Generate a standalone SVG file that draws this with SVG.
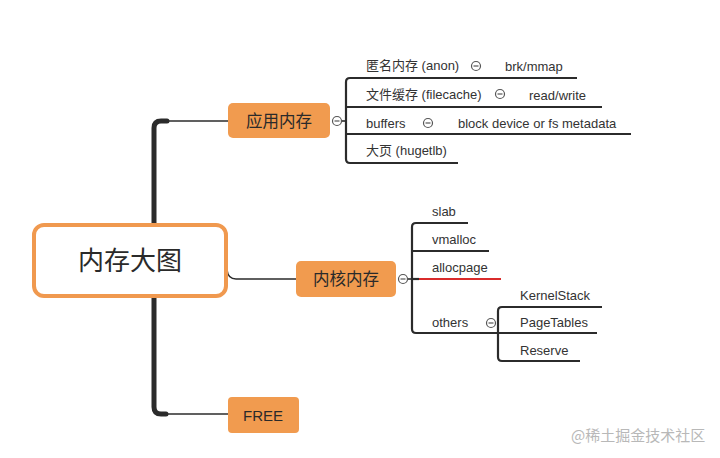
<svg xmlns="http://www.w3.org/2000/svg" width="720" height="458" viewBox="0 0 720 458">
<style>
.bg{fill:#ffffff}
.topic{fill:#F19B4F}
.tt{font-family:"Noto Sans CJK SC","Liberation Sans",sans-serif;fill:#2a2a2a;text-anchor:middle}
.lbl{font-family:"Liberation Sans","Noto Sans CJK SC",sans-serif;font-size:13px;fill:#333333}
.trunk{fill:none;stroke:#2b2b2b;stroke-width:5;stroke-linecap:round;stroke-linejoin:round}
.br{fill:none;stroke:#2b2b2b;stroke-width:1.6}
.ln{fill:none;stroke:#2b2b2b;stroke-width:2.2;stroke-linejoin:round}
.red{fill:none;stroke:#D92B2B;stroke-width:2.2}
.col{fill:#ffffff;stroke:#555555;stroke-width:1.2}
.mn{stroke:#555555;stroke-width:1.2}
.wm{font-family:"Noto Sans CJK SC",sans-serif;font-size:15px;fill:#b8b8b8}
</style>
<rect class="bg" x="0" y="0" width="720" height="458"/>
<g id="connectors">
  <path class="trunk" d="M 167 121 L 161 121 Q 154 121 154 128 L 154 407 Q 154 414 161 414 L 166 414"/>
  <path class="br" d="M 160 121 L 229 121"/>
  <path class="br" d="M 160 414 L 229 414"/>
  <path class="br" d="M 227 270 Q 228 279 236 279 L 297 279"/>
  <path class="br" d="M 342 121 L 346 121"/>
  <path class="ln" d="M 577 78 L 350 78 Q 346 78 346 82 L 346 159 Q 346 163 350 163 L 458 163"/>
  <path class="ln" d="M 346 107 L 602 107"/>
  <path class="ln" d="M 346 134 L 631 134"/>
  <path class="br" d="M 408 279 L 412 279"/>
  <path class="ln" d="M 468 223 L 416 223 Q 412 223 412 227 L 412 329 Q 412 333 416 333 L 597 333"/>
  <path class="ln" d="M 412 251 L 489 251"/>
  <path class="ln" d="M 412 279 L 419 279"/>
  <path class="red" d="M 419 279 L 501 279"/>
  <path class="ln" d="M 602 307 L 502 307 Q 498 307 498 311 L 498 357 Q 498 361 502 361 L 580 361"/>
</g>
<g id="root">
  <rect x="34" y="225" width="192" height="71" rx="10" fill="#ffffff" stroke="#F0994F" stroke-width="4"/>
  <text class="tt" x="130" y="270" font-size="26">内存大图</text>
</g>
<g id="app-mem">
  <rect class="topic" x="228" y="103" width="102" height="35" rx="5"/>
  <text class="tt" x="279" y="127" font-size="16.5">应用内存</text>
  <circle class="col" cx="337" cy="121" r="4.5"/>
  <line class="mn" x1="334.5" y1="121" x2="339.5" y2="121"/>
</g>
<g id="anon">
  <text class="lbl" x="366" y="70">匿名内存 (anon)</text>
  <circle class="col" cx="476" cy="66" r="4.5"/>
  <line class="mn" x1="473.5" y1="66" x2="478.5" y2="66"/>
</g>
<g id="brk"><text class="lbl" x="505" y="71">brk/mmap</text></g>
<g id="filecache">
  <text class="lbl" x="366" y="99">文件缓存 (filecache)</text>
  <circle class="col" cx="500" cy="94" r="4.5"/>
  <line class="mn" x1="497.5" y1="94" x2="502.5" y2="94"/>
</g>
<g id="rw"><text class="lbl" x="529" y="100">read/write</text></g>
<g id="buffers">
  <text class="lbl" x="366" y="128">buffers</text>
  <circle class="col" cx="428" cy="123" r="4.5"/>
  <line class="mn" x1="425.5" y1="123" x2="430.5" y2="123"/>
</g>
<g id="blockdev"><text class="lbl" x="458" y="128">block device or fs metadata</text></g>
<g id="hugetlb"><text class="lbl" x="366" y="155">大页 (hugetlb)</text></g>
<g id="kernel-mem">
  <rect class="topic" x="296" y="261" width="100" height="36" rx="5"/>
  <text class="tt" x="346" y="285" font-size="16.5">内核内存</text>
  <circle class="col" cx="403" cy="279" r="4.5"/>
  <line class="mn" x1="400.5" y1="279" x2="405.5" y2="279"/>
</g>
<g id="slab"><text class="lbl" x="432" y="216">slab</text></g>
<g id="vmalloc"><text class="lbl" x="432" y="244">vmalloc</text></g>
<g id="allocpage"><text class="lbl" x="432" y="272">allocpage</text></g>
<g id="others">
  <text class="lbl" x="432" y="327">others</text>
  <circle class="col" cx="491" cy="323" r="4.5"/>
  <line class="mn" x1="488.5" y1="323" x2="493.5" y2="323"/>
</g>
<g id="kernelstack"><text class="lbl" x="520" y="300">KernelStack</text></g>
<g id="pagetables"><text class="lbl" x="520" y="327">PageTables</text></g>
<g id="reserve"><text class="lbl" x="520" y="355">Reserve</text></g>
<g id="free">
  <rect class="topic" x="228" y="397" width="71" height="36" rx="4"/>
  <text class="tt" x="263" y="421" font-size="15" style="font-family:'Liberation Sans',sans-serif">FREE</text>
</g>
<text class="wm" x="571" y="441">@稀土掘金技术社区</text>
</svg>
